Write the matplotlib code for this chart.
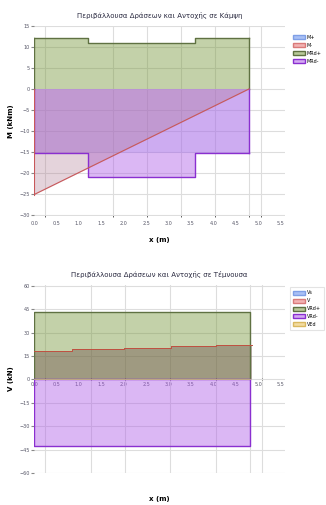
import numpy as np
import matplotlib.pyplot as plt

# ---- data: bending (top chart) ----
x_m_steps = [0, 1.2, 3.6, 4.8]
m_rd_pos = [12.2, 11.0, 12.2, 12.2]
m_rd_neg = [-15.2, -21.0, -15.2, -15.2]
x_m_line = [0, 4.8]
m_ed = [-25.2, 0]
m_s = [-15.2, -15.2]

# ---- data: shear (bottom chart) ----
x_v_steps = [0, 0.85, 2.0, 3.06, 4.06, 4.87]
v_ed = [18.1, 19.3, 20.4, 21.5, 22.3, 22.3]
x_v_rd = [0, 4.82]
v_rd_pos = [43.2, 43.2]
v_rd_neg = [-42.8, -42.8]
v_s = [0, 0]
v_d = [0, 0]

x_ticks = np.arange(0, 5.6, 0.5)
grid_x_top = [0.245, 1.0, 1.76, 2.52, 3.28, 4.04, 4.8, 5.07]
grid_x_bot = [0.245, 1.0, 1.27, 2.03, 3.03, 4.06, 4.82, 5.09]
y_ticks_top = [15, 10, 5, 0, -5, -10, -15, -20, -25, -30]
y_ticks_bot = [60, 45, 30, 15, 0, -15, -30, -45, -60]

blue = ('#a9c0f5', '#7f9fe6')
red = ('#f2b3b3', '#d97a7a')
green = ('#7a9a40', '#5f7142')
purple = ('#b060e8', '#8a2fd0')
yellow = ('#f3dca0', '#d9b860')

fig = plt.figure(figsize=(3.26, 5.05), dpi=100)
ax1 = fig.add_axes([0.1043, 0.5723, 0.7697, 0.3762])
ax2 = fig.add_axes([0.1043, 0.0634, 0.7697, 0.3722])


def style_axes(ax, grid_x, yticks):
    ax.set_xlim(0, 5.6)
    for s in ax.spines.values():
        s.set_visible(False)
    ax.set_yticks(yticks)
    ax.set_xticks(x_ticks)
    ax.set_xticks(grid_x, minor=True)
    ax.tick_params(axis='x', which='major', length=0, labelsize=3.5, labelcolor='#556')
    ax.tick_params(axis='x', which='minor', length=1.5, color='#444', direction='inout')
    ax.tick_params(axis='y', length=2, color='#888', labelsize=3.5, labelcolor='#556', pad=1)
    ax.grid(True, axis='y', which='major', color='#dddddd', lw=0.8)
    ax.grid(True, axis='x', which='minor', color='#dddddd', lw=0.8)
    ax.set_axisbelow(True)


# top chart
ax1.fill_between(x_m_steps, 0, m_rd_pos, step='post', color=green[0], alpha=0.45, lw=0)
ax1.step(x_m_steps, m_rd_pos, where='post', color=green[1], lw=1)
ax1.plot([0, 0], [0, m_rd_pos[0]], color=green[1], lw=1)
ax1.plot([4.8, 4.8], [0, m_rd_pos[-1]], color=green[1], lw=1)
ax1.fill_between(x_m_line, 0, m_s, color=blue[1], alpha=0.2, lw=0)
ax1.fill_between(x_m_steps, 0, m_rd_neg, step='post', color=purple[0], alpha=0.45, lw=0)
ax1.step(x_m_steps, m_rd_neg, where='post', color=purple[1], lw=1)
ax1.plot([0, 0], [0, m_rd_neg[0]], color=purple[1], lw=1)
ax1.plot([4.8, 4.8], [0, m_rd_neg[-1]], color=purple[1], lw=1)
ax1.fill_between(x_m_line, 0, m_ed, color='#a87088', alpha=0.3, lw=0)
ax1.plot(x_m_line, m_ed, color='#c8585a', lw=0.8)
ax1.plot([0, 0], [0, m_ed[0]], color='#c8585a', lw=0.8)
ax1.set_ylim(-30.3, 15)
style_axes(ax1, grid_x_top, y_ticks_top)
ax1.set_title('Περιβάλλουσα Δράσεων και Αντοχής σε Κάμψη', fontsize=5, color='#2a2a40', pad=6)
ax1.set_xlabel('x (m)', fontsize=5, fontweight='bold', labelpad=8)
ax1.set_ylabel('M (kNm)', fontsize=5, fontweight='bold', labelpad=4)

# bottom chart
ax2.fill_between(x_v_rd, 0, v_rd_pos, color=green[0], alpha=0.45, lw=0)
ax2.plot([0, 0, 4.82, 4.82], [0, v_rd_pos[0], v_rd_pos[1], 0], color=green[1], lw=1)
ax2.fill_between(x_v_steps, 0, v_ed, step='post', color='#6b4947', alpha=0.4, lw=0)
ax2.step(x_v_steps, v_ed, where='post', color='#c05040', lw=0.7)
ax2.fill_between(x_v_rd, 0, v_rd_neg, color=purple[0], alpha=0.45, lw=0)
ax2.plot([0, 0, 4.82, 4.82, 0], [0, v_rd_neg[0], v_rd_neg[1], 0, 0], color=purple[1], lw=1)
ax2.plot(x_v_rd, v_s, color=blue[1], lw=0.5)
ax2.plot(x_v_rd, v_d, color=yellow[1], lw=0.5)
ax2.set_ylim(-60, 60.5)
style_axes(ax2, grid_x_bot, y_ticks_bot)
ax2.spines['bottom'].set_position(('data', 0))
ax2.tick_params(axis='x', which='major', pad=2)
ax2.set_title('Περιβάλλουσα Δράσεων και Αντοχής σε Τέμνουσα', fontsize=5, color='#2a2a40', pad=6)
ax2.set_xlabel('x (m)', fontsize=5, fontweight='bold')
ax2.xaxis.set_label_coords(0.5, -0.12)
ax2.set_ylabel('V (kN)', fontsize=5, fontweight='bold', labelpad=4)


def legend_box(ax, items, frame, y0):
    handles = [plt.Rectangle((0, 0), 1, 1, facecolor=f, edgecolor=e, lw=1) for f, e in
               [(c[0] if c not in (green, purple) else c[0] + '88', c[1]) for c in [i[0] for i in items]]]
    leg = ax.legend(handles, [i[1] for i in items], loc='upper left', bbox_to_anchor=(1.01, y0),
                    fontsize=3.5, frameon=frame, handlelength=2.5, handleheight=0.9,
                    labelspacing=0.6, borderpad=0.6, handletextpad=0.4, fancybox=False)
    if frame:
        leg.get_frame().set_edgecolor('#dddddd')
        leg.get_frame().set_linewidth(0.8)


legend_box(ax1, [(blue, 'M+'), (red, 'M-'), (green, 'MRd+'), (purple, 'MRd-')], False, 0.98)
legend_box(ax2, [(blue, 'Vs'), (red, 'V'), (green, 'VRd+'), (purple, 'VRd-'), (yellow, 'VEd')], True, 1.0)

fig.savefig('out.png', dpi=100)
